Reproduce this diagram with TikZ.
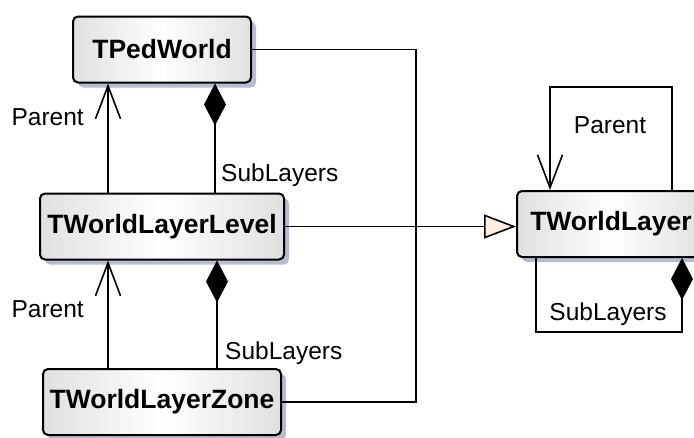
\documentclass[tikz,border=0pt]{standalone}
\usepackage{fontspec}
\setmainfont{Liberation Sans}
\usetikzlibrary{arrows.meta,shadows}

\definecolor{shade}{RGB}{184,188,208}
\definecolor{boxgray}{RGB}{224,224,224}
\definecolor{trifill}{RGB}{251,238,222}

\tikzset{
  umlclass/.style={draw, line width=2pt, rounded corners=5pt, inner sep=0pt,
    minimum height=66pt, left color=boxgray, right color=boxgray, middle color=white,
    drop shadow={shadow xshift=5pt, shadow yshift=-5pt, fill=shade, opacity=1},
    font=\fontsize{26.5}{31}\selectfont\bfseries},
  role/.style={inner sep=0pt, font=\fontsize{24.5}{29}\selectfont},
  link/.style={line width=1.6pt},
  parent/.style={link, -{Straight Barb[length=33pt,width=25pt]}},
  composition/.style={link, {Diamond[length=42pt,width=22pt]}-},
  generalization/.style={link, -{Triangle[length=32pt,width=24pt,fill=trifill]}}
}

\begin{document}
\begin{tikzpicture}[x=1pt, y=-1pt]
    \useasboundingbox (0,0) rectangle (694,437);

    % Classes
    \node[umlclass, minimum width=178pt] (ped) at (162,49.5) {TPedWorld};
    \node[umlclass, minimum width=244pt] (lvl) at (162,226.5) {TWorldLayerLevel};
    \node[umlclass, minimum width=238pt] (zone) at (162,402) {TWorldLayerZone};
    \node[umlclass, minimum width=188pt] (layer) at (611,224) {TWorldLayer};

    % Helper points for the bends
    \coordinate (bend) at (416,48);
    \coordinate (looptop) at (611,87);
    \coordinate (loopbot) at (611,332);

    % Level <-> world
    \draw[parent] ([xshift=-54pt]lvl.north) -- ([xshift=-54pt]lvl.north |- ped.south);
    \draw[composition] ([xshift=53pt]ped.south) -- ([xshift=53pt]ped.south |- lvl.north);
    \node[role, anchor=east] (parentA) at (84,117) {Parent};
    \node[role, anchor=west] (subA) at (221,175) {SubLayers};

    % Zone <-> level
    \draw[parent] ([xshift=-54pt]zone.north) -- ([xshift=-54pt]zone.north |- lvl.south);
    \draw[composition] ([xshift=55pt]lvl.south) -- ([xshift=55pt]lvl.south |- zone.north);
    \node[role, anchor=east] (parentB) at (84,309) {Parent};
    \node[role, anchor=west] (subB) at (225,353) {SubLayers};

    % Zone back to world
    \draw[link] (ped.east) -- (ped.east -| bend) |- (zone.east);

    % Inheritance
    \draw[generalization] (lvl.east) -- (lvl.east -| layer.west);

    % Self links of the layer
    \draw[parent] ([xshift=61pt]layer.north) -- ([xshift=61pt]layer.north |- looptop)
        -- ([xshift=-61pt]layer.north |- looptop) -- ([xshift=-61pt]layer.north);
    \draw[composition] ([xshift=71pt]layer.south) -- ([xshift=71pt]layer.south |- loopbot)
        -- ([xshift=-75pt]layer.south |- loopbot) -- ([xshift=-75pt]layer.south);
    \node[role] (parentC) at (610,125) {Parent};
    \node[role] (subC) at (608,314) {SubLayers};
\end{tikzpicture}
\end{document}
